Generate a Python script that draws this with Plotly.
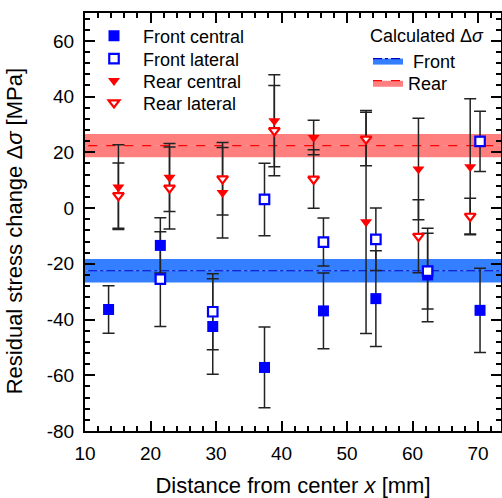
import plotly.graph_objects as go

# ---------------- data ----------------
front_x = [13.6, 21.5, 29.5, 37.4, 46.4, 54.4, 62.3, 70.3]
front_central = [-36.4, -13.4, -42.5, -57.2, -36.9, -32.5, -24.0, -36.7]
front_central_err = [8.5, 9.9, 17.1, 14.5, 13.6, 17.2, 16.8, 15.1]

front_lat_x = [21.5, 29.5, 37.4, 46.4, 54.4, 62.3, 70.3]
front_lateral = [-25.5, -37.2, 3.1, -12.2, -11.2, -22.6, 23.9]
front_lateral_err = [17.0, 13.6, 13.0, 8.6, 11.2, 13.6, 10.8]

rear_x = [15.1, 22.9, 31.0, 38.9, 44.9, 52.9, 60.9, 68.8]
rear_central = [7.5, 11.0, 5.5, 31.3, 25.3, -5.0, 14.0, 14.8]
rear_central_err = [15.2, 12.2, 16.2, 16.5, 6.2, 40.0, 18.2, 24.4]
rear_lateral = [4.5, 7.2, 10.5, 27.8, 10.4, 24.8, -10.1, -2.9]
rear_lateral_err = [11.7, 14.7, 13.0, 16.2, 10.5, 9.6, 13.1, 6.4]

calc_front = -22.5
calc_front_err = 4.2
calc_rear = 22.4
calc_rear_err = 4.2

x_range = [10, 73.5]
y_range = [-80, 70]
x_tickvals = [10, 20, 30, 40, 50, 60, 70]
x_ticktext = ["10", "20", "30", "40", "50", "60", "70"]
y_tickvals = [-80, -60, -40, -20, 0, 20, 40, 60]
y_ticktext = ["-80", "-60", "-40", "-20", "0", "20", "40", "60"]

FONT = "Arial, Liberation Sans, sans-serif"
W, H = 502, 498
ML, MR, MT, MB = 85, 1, 13, 67
PW, PH = W - ML - MR, H - MT - MB


def px_to_paper(px, py):
    return (px - ML) / PW, 1 - (py - MT) / PH


fig = go.Figure()


# ---------------- calculated bands ----------------
def band(center, err, fillcol, linecol, dash, name, legend):
    xs = [x_range[0] - 5, x_range[1] + 5]
    fig.add_trace(go.Scatter(x=xs, y=[center + err] * 2, mode="lines",
                             line=dict(width=0, color=fillcol), hoverinfo="skip",
                             showlegend=False, legend=legend))
    fig.add_trace(go.Scatter(x=xs, y=[center] * 2, mode="lines", fill="tonexty",
                             fillcolor=fillcol, line=dict(width=1.2, color=linecol, dash=dash),
                             name=name, legend=legend))
    fig.add_trace(go.Scatter(x=xs, y=[center - err] * 2, mode="lines", fill="tonexty",
                             fillcolor=fillcol, line=dict(width=0, color=fillcol),
                             hoverinfo="skip", showlegend=False, legend=legend))


band(calc_front, calc_front_err, "rgba(0,95,255,0.8)", "#0000cc", "dashdot", " Front", "legend5")
band(calc_rear, calc_rear_err, "rgba(255,0,0,0.5)", "#ff0000", "dash", "Rear", "legend6")


# ---------------- error bars (drawn under markers) ----------------
def ebars(xs, ys, errs):
    fig.add_trace(go.Scatter(x=xs, y=ys, mode="markers",
                             marker=dict(size=1, color="rgba(0,0,0,0)"),
                             error_y=dict(type="data", array=errs, visible=True,
                                          color="#222222", thickness=1.5, width=6),
                             showlegend=False, hoverinfo="skip"))


ebars(front_x, front_central, front_central_err)
ebars(front_lat_x, front_lateral, front_lateral_err)
ebars(rear_x, rear_central, rear_central_err)
ebars(rear_x, rear_lateral, rear_lateral_err)

# ---------------- markers ----------------
fig.add_trace(go.Scatter(x=front_x, y=front_central, mode="markers", name="Front central",
                         legend="legend",
                         marker=dict(symbol="square", size=11, color="#0000ff",
                                     line=dict(width=0))))
fig.add_trace(go.Scatter(x=front_lat_x, y=front_lateral, mode="markers", showlegend=False,
                         hoverinfo="skip",
                         marker=dict(symbol="square", size=8, color="white")))
fig.add_trace(go.Scatter(x=front_lat_x, y=front_lateral, mode="markers", name="Front lateral",
                         legend="legend2",
                         marker=dict(symbol="square-open", size=9.5, color="#0000ff",
                                     line=dict(width=2.2, color="#0000ff"))))
fig.add_trace(go.Scatter(x=rear_x, y=rear_central, mode="markers", name="Rear central",
                         legend="legend3",
                         marker=dict(symbol="triangle-down", size=10.5, color="#ff0000",
                                     line=dict(width=0))))
fig.add_trace(go.Scatter(x=rear_x, y=rear_lateral, mode="markers", showlegend=False,
                         hoverinfo="skip",
                         marker=dict(symbol="triangle-down", size=8, color="white")))
fig.add_trace(go.Scatter(x=rear_x, y=rear_lateral, mode="markers", name="Rear lateral",
                         legend="legend4",
                         marker=dict(symbol="triangle-down-open", size=9.5, color="#ff0000",
                                     line=dict(width=2.2, color="#ff0000"))))

axis_common = dict(showline=True, linecolor="black", linewidth=2, mirror="allticks",
                   ticks="inside", ticklen=10, tickwidth=2, tickcolor="black",
                   showgrid=False, zeroline=False, automargin=False,
                   tickfont=dict(family=FONT, size=19, color="black"))

fig.update_xaxes(range=x_range, tickmode="array", tickvals=x_tickvals, ticktext=x_ticktext,
                 minor=dict(dtick=2, ticks="inside", ticklen=5, tickwidth=1.5, tickcolor="black"),
                 title=dict(text="Distance from center <i>x</i> [mm]",
                            font=dict(family=FONT, size=22, color="black"), standoff=23),
                 ticklabelstandoff=4,
                 **axis_common)
fig.update_yaxes(range=y_range, tickmode="array", tickvals=y_tickvals, ticktext=y_ticktext,
                 minor=dict(dtick=4, ticks="inside", ticklen=5, tickwidth=1.5, tickcolor="black"),
                 title=dict(text="Residual stress change Δ<i>σ</i> [MPa]&nbsp;&nbsp;&nbsp;",
                            font=dict(family=FONT, size=22, color="black"), standoff=18),
                 ticklabelstandoff=5,
                 **axis_common)

leg_font = dict(family=FONT, size=18, color="black")
marker_legend_rows = [36, 59, 81, 103]
legends = {}
for i, row in enumerate(marker_legend_rows):
    key = "legend" if i == 0 else f"legend{i + 1}"
    lx, ly = px_to_paper(85, row)
    legends[key] = dict(x=lx, y=ly, xanchor="left", yanchor="middle",
                        bgcolor="rgba(0,0,0,0)", font=leg_font, itemwidth=48)

lx, ly = px_to_paper(368, 19)
legends["legend5"] = dict(x=lx, y=ly, xanchor="left", yanchor="top", bgcolor="rgba(0,0,0,0)",
                          title=dict(text="Calculated Δ<i>σ</i>", font=leg_font),
                          font=leg_font, itemwidth=30)
lx, ly = px_to_paper(368, 83)
legends["legend6"] = dict(x=lx, y=ly, xanchor="left", yanchor="middle", bgcolor="rgba(0,0,0,0)",
                          font=leg_font, itemwidth=30)

fig.update_layout(
    width=W, height=H,
    margin=dict(l=ML, r=MR, t=MT, b=MB, autoexpand=False),
    plot_bgcolor="white", paper_bgcolor="white",
    font=dict(family=FONT, color="black"),
    **legends,
)

fig.write_html("out.html", config={"displayModeBar": False},
               post_script="document.body.style.margin='0px';")
